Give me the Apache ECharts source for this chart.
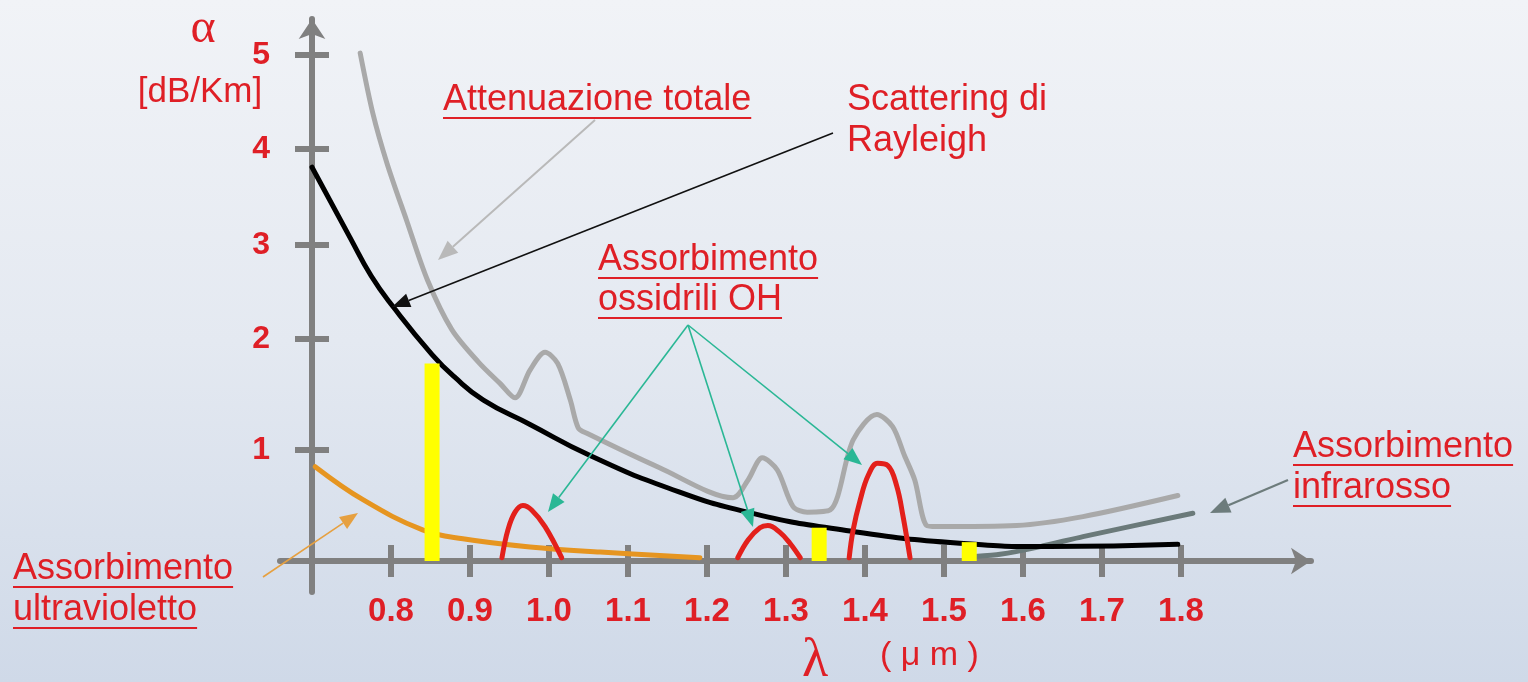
<!DOCTYPE html>
<html>
<head>
<meta charset="utf-8">
<title>Attenuazione nella fibra ottica</title>
<script src="https://cdn.jsdelivr.net/npm/echarts@6.0.0/dist/echarts.min.js"></script>
<style>
  html, body { margin: 0; padding: 0; width: 100%; height: 100%; overflow: hidden; }
  body { background: linear-gradient(to bottom, #f1f3f7 0%, #e4e9f1 50%, #cfd9e8 100%); }
  #chart { width: 1528px; height: 682px; }
</style>
</head>
<body>
<div id="chart"></div>
<script>
// tick labels
const X_TICKS = [0.8, 0.9, 1.0, 1.1, 1.2, 1.3, 1.4, 1.5, 1.6, 1.7, 1.8];
const Y_TICKS = [1, 2, 3, 4, 5];
// the alpha scale in the drawing is not uniform: px above the lambda axis for alpha = 0..5
const Y_TICK_H = [0, 111, 222, 316, 412, 506];

// [lambda (um), alpha (dB/Km)]
const attTotale = [
  [0.761, 5.02], [0.777, 4.38], [0.795, 3.85], [0.820, 3.25], [0.846, 2.63], [0.877, 2.10],
  [0.911, 1.79], [0.938, 1.60], [0.957, 1.47], [0.976, 1.72], [0.995, 1.88], [1.011, 1.78],
  [1.027, 1.45], [1.037, 1.20], [1.048, 1.15], [1.140, 0.84], [1.233, 0.57], [1.252, 0.73],
  [1.270, 0.93], [1.289, 0.82], [1.309, 0.49], [1.327, 0.44], [1.356, 0.46], [1.385, 1.09],
  [1.415, 1.32], [1.435, 1.21], [1.450, 0.95], [1.463, 0.73], [1.478, 0.32], [1.491, 0.31],
  [1.592, 0.32], [1.676, 0.40], [1.796, 0.59]
];
const rayleigh = [
  [0.700, 3.81], [0.748, 3.08], [0.775, 2.67], [0.803, 2.34], [0.852, 1.86], [0.880, 1.66],
  [0.917, 1.45], [0.976, 1.23], [1.052, 0.95], [1.150, 0.66], [1.251, 0.44], [1.381, 0.27],
  [1.520, 0.16], [1.634, 0.13], [1.796, 0.15]
];
const ultravioletto = [
  [0.704, 0.85], [0.765, 0.55], [0.840, 0.28], [0.891, 0.20], [0.976, 0.126], [1.065, 0.08], [1.191, 0.03]
];
const infrarosso = [
  [1.539, 0.04], [1.571, 0.06], [1.622, 0.13], [1.676, 0.22], [1.815, 0.43]
];
const oh1 = [[0.9405, 0.03], [0.948, 0.28], [0.957, 0.44], [0.967, 0.50], [0.978, 0.46], [0.995, 0.31], [1.016, 0.03]];
const oh2 = [[1.239, 0.03], [1.252, 0.19], [1.267, 0.30], [1.277, 0.32], [1.292, 0.26], [1.305, 0.16], [1.318, 0.03]];
const oh3 = [[1.380, 0.03], [1.385, 0.28], [1.394, 0.55], [1.404, 0.77], [1.416, 0.88], [1.429, 0.86], [1.440, 0.68], [1.448, 0.41], [1.457, 0.03]];
// finestre di trasmissione (barre gialle)
const finestre = [[0.852, 1.78], [1.342, 0.30], [1.532, 0.17]];

const RED = '#df1f26';
const AXIS = '#808080';
const FONT = '"Liberation Sans", Arial, sans-serif';
const NOTE_FONT = '36px ' + FONT;

// piecewise alpha -> axis units (px above the axis), like the hand-drawn scale
function toAxis(a) {
  const i = Math.max(0, Math.min(Math.floor(a), 4));
  return Y_TICK_H[i] + (a - i) * (Y_TICK_H[i + 1] - Y_TICK_H[i]);
}
const conv = (arr) => arr.map((p) => [p[0], toAxis(p[1])]);

const ctx = document.createElement('canvas').getContext('2d');
function textWidth(t, font) {
  ctx.font = font;
  return ctx.measureText(t).width;
}

function note(lines, x, y0, gap, underline) {
  const els = [];
  lines.forEach((t, i) => {
    const y = y0 + i * gap;
    els.push({
      type: 'text', z: 100,
      style: { text: t, x: x, y: y, font: NOTE_FONT, fill: RED, align: 'left', verticalAlign: 'middle', textAlign: 'left', textVerticalAlign: 'middle' }
    });
    if (underline) {
      els.push({
        type: 'line', z: 100,
        shape: { x1: x, y1: y + 18, x2: x + textWidth(t, NOTE_FONT), y2: y + 18 },
        style: { stroke: RED, lineWidth: 2 }
      });
    }
  });
  return els;
}

function arrow(x1, y1, x2, y2, color, w, head) {
  const ang = Math.atan2(y2 - y1, x2 - x1);
  const hw = head * 0.4;
  const bx = x2 - head * Math.cos(ang), by = y2 - head * Math.sin(ang);
  return [
    { type: 'line', z: 100, shape: { x1: x1, y1: y1, x2: bx, y2: by }, style: { stroke: color, lineWidth: w } },
    {
      type: 'polygon', z: 100,
      shape: { points: [[x2, y2], [bx + hw * Math.sin(ang), by - hw * Math.cos(ang)], [bx - hw * Math.sin(ang), by + hw * Math.cos(ang)]] },
      style: { fill: color }
    }
  ];
}

const graphics = [].concat(
  [
    { type: 'text', z: 100, style: { text: 'α', x: 203, y: 29, font: '48px "Liberation Serif", serif', fill: RED, align: 'center', verticalAlign: 'middle', textAlign: 'center', textVerticalAlign: 'middle' } },
    { type: 'text', z: 100, style: { text: '[dB/Km]', x: 200, y: 92, font: '35px ' + FONT, fill: RED, align: 'center', verticalAlign: 'middle', textAlign: 'center', textVerticalAlign: 'middle' } },
    { type: 'text', z: 100, style: { text: 'λ', x: 815, y: 662, font: '54px "Liberation Serif", serif', fill: RED, align: 'center', verticalAlign: 'middle', textAlign: 'center', textVerticalAlign: 'middle' } },
    { type: 'text', z: 100, style: { text: '( μ m )', x: 880, y: 656, font: '34px ' + FONT, fill: RED, align: 'left', verticalAlign: 'middle', textAlign: 'left', textVerticalAlign: 'middle' } }
  ],
  note(['Attenuazione totale'], 443, 100, 41, true),
  note(['Scattering di', 'Rayleigh'], 847, 100, 41, false),
  note(['Assorbimento', 'ossidrili OH'], 598, 260, 40, true),
  note(['Assorbimento', 'ultravioletto'], 13, 569, 41, true),
  note(['Assorbimento', 'infrarosso'], 1293, 447, 41, true),
  arrow(595, 120, 438, 260, '#b9b9b9', 2, 20),
  arrow(833, 133, 392, 307, '#111111', 1.6, 18),
  arrow(688, 325, 548, 512, '#2ab795', 1.6, 18),
  arrow(688, 325, 753, 527, '#2ab795', 1.6, 18),
  arrow(688, 325, 862, 465, '#2ab795', 1.6, 18),
  arrow(263, 577, 358, 513, '#e6a040', 1.6, 18),
  arrow(1288, 480, 1210, 513, '#6d7c7c', 2.2, 20)
);

const X_MIN = 0.6595, X_MAX = 1.9646;
const Y_MIN = -31, Y_MAX = 542;

const baseX = {
  type: 'value', min: X_MIN, max: X_MAX, position: 'bottom', offset: -31,
  splitLine: { show: false }
};
const baseY = {
  type: 'value', min: Y_MIN, max: Y_MAX, position: 'left', offset: -32,
  splitLine: { show: false }
};

const chart = echarts.init(document.getElementById('chart'), null, { renderer: 'canvas' });

const lineSeries = (name, data, color, z, smooth) => ({
  name: name, type: 'line', data: conv(data), z: z,
  showSymbol: false, symbol: 'none', smooth: smooth,
  lineStyle: { color: color, width: 5, cap: 'round', join: 'round' },
  silent: true
});

chart.setOption({
  backgroundColor: 'transparent',
  animation: false,
  grid: { left: 280, right: 217, top: 19, bottom: 90, containLabel: false, outerBoundsMode: 'none' },
  xAxis: [
    Object.assign({}, baseX, {
      axisLine: { show: true, onZero: false, symbol: ['none', 'arrow'], symbolSize: [20, 20], lineStyle: { color: AXIS, width: 6 } },
      axisTick: { show: true, inside: false, length: 16, customValues: X_TICKS, lineStyle: { color: AXIS, width: 6 } },
      axisLabel: {
        show: true, customValues: X_TICKS, margin: 34, color: RED, fontSize: 33, fontWeight: 'bold', fontFamily: FONT,
        formatter: (v) => v.toFixed(1)
      }
    }),
    Object.assign({}, baseX, {
      axisLine: { show: false, onZero: false },
      axisTick: { show: true, inside: true, length: 16, customValues: X_TICKS, lineStyle: { color: AXIS, width: 6 } },
      axisLabel: { show: false }
    })
  ],
  yAxis: [
    Object.assign({}, baseY, {
      axisLine: { show: true, onZero: false, symbol: ['none', 'arrow'], symbolSize: [20, 20], lineStyle: { color: AXIS, width: 6 } },
      axisTick: { show: true, inside: false, length: 17, customValues: Y_TICKS.map(toAxis), lineStyle: { color: AXIS, width: 6 } },
      axisLabel: {
        show: true, customValues: Y_TICKS.map(toAxis), margin: 42, color: RED, fontSize: 32, fontWeight: 'bold', fontFamily: FONT,
        formatter: (v) => {
          const i = Y_TICK_H.findIndex((h) => Math.abs(h - v) < 0.5);
          return i >= 0 ? String(i) : '';
        }
      }
    }),
    Object.assign({}, baseY, {
      axisLine: { show: false, onZero: false },
      axisTick: { show: true, inside: true, length: 17, customValues: Y_TICKS.map(toAxis), lineStyle: { color: AXIS, width: 6 } },
      axisLabel: { show: false }
    })
  ],
  series: [
    lineSeries('Attenuazione totale', attTotale, '#a9a9a9', 3, 0.3),
    lineSeries('Assorbimento infrarosso', infrarosso, '#6b7a7a', 4, 0.2),
    lineSeries('Assorbimento ultravioletto', ultravioletto, '#e69520', 5, 0.4),
    lineSeries('Scattering di Rayleigh', rayleigh, '#000000', 6, 0.5),
    lineSeries('OH 0.95', oh1, '#e3201b', 7, 0.4),
    lineSeries('OH 1.24', oh2, '#e3201b', 7, 0.4),
    lineSeries('OH 1.38', oh3, '#e3201b', 7, 0.4),
    {
      name: 'Finestre', type: 'bar', data: conv(finestre), z: 8, barWidth: 15,
      itemStyle: { color: '#ffff00' }, silent: true
    }
  ],
  graphic: graphics
});
</script>
</body>
</html>
